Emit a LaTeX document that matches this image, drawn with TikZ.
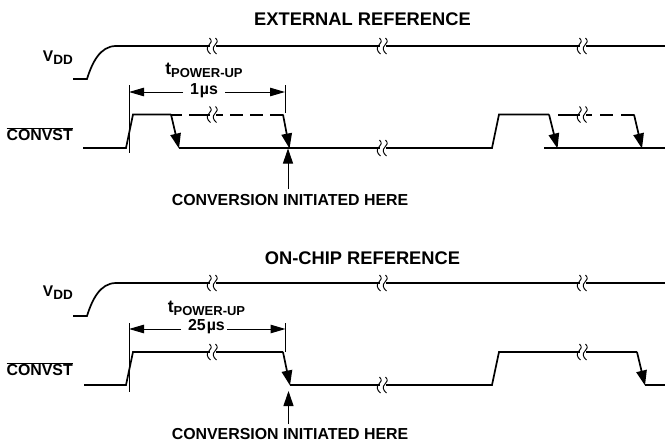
\documentclass[tikz,border=0pt]{standalone}
\usepackage{fontspec}
\setmainfont{Liberation Sans}
\usetikzlibrary{arrows.meta}
\tikzset{
  wave/.style={line width=1.7pt, line join=miter},
  dimline/.style={line width=0.9pt},
  dimarrow/.style={line width=1pt, -{Triangle[length=15pt,width=8.5pt]}},
  fallarrow/.style={line width=1.7pt, -{Triangle[length=15pt,width=10.5pt]}},
  uparrow/.style={line width=1pt, -{Triangle[length=15pt,width=10pt]}},
  label/.style={font=\bfseries\fontsize{15.9}{17}\selectfont, inner sep=0pt},
  title/.style={font=\bfseries\fontsize{18.3}{20}\selectfont, inner sep=0pt}
}
% break mark on a line
\newcommand{\breakmark}[2]{
  \fill[white] (#1+0,#2-4) rectangle (#1+6,#2+4);
  \foreach \sq in {1,7}
    \draw[line width=0.95pt] (#1+\sq-1.5,#2-8) .. controls (#1+\sq+1.5,#2-5) and (#1+\sq,#2-3) .. (#1+\sq-2,#2-1) .. controls (#1+\sq-5,#2+2) and (#1+\sq-4,#2+5) .. (#1+\sq-0.5,#2+8);
}
\newcommand{\vdd}{\fontsize{15.5}{17}\selectfont V\raisebox{-3pt}{\fontsize{13.5}{14}\selectfont DD}}
\newcommand{\tpower}{\fontsize{17.5}{17}\selectfont t\raisebox{-3pt}{\fontsize{13}{14}\selectfont POWER-UP}}
\begin{document}
\begin{tikzpicture}[x=1pt,y=-1pt]
  \useasboundingbox (0,0) rectangle (665,442);

  % external reference
  \node[title] (exttitle) at (362.5,19) {EXTERNAL REFERENCE};
  \node[label,anchor=east] (extvdd) at (73,58) {\vdd};
  \node[label,anchor=east] (extconvst) at (73,134) {$\overline{\hbox{CONVST}}$};
  \draw[wave] (73,79) -- (87,79) .. controls (92,63) and (100,46) .. (116,46) -- (665,46);
  \draw[wave] (83,148) -- (126,148) -- (133,114.5) -- (171,114.5);
  \draw[wave] (179,148) -- (492,148) -- (499,114.5) -- (549,114.5);
  \draw[wave] (544,148) -- (665,148);
  % dashes
  \foreach \from/\to in {171/182,189/223,230/243,250/263,270/283,558/592,600/613,621/634}
    \draw[wave] (\from,114.9) -- (\to,114.9);
  \draw[fallarrow] (171,114.5) -- (179,148.5);
  \draw[fallarrow] (283,114.5) -- (289.5,148.5);
  \draw[fallarrow] (549,114.5) -- (557.5,148.5);
  \draw[fallarrow] (634,114.5) -- (642,148.5);
  \foreach \posx/\posy in {210/46,380/46,580/46,210/114.5,580/114.5,380/148}
    {\breakmark{\posx}{\posy}}
  \coordinate (extleft) at (129,92);
  \coordinate (extright) at (285,92);
  \draw[dimline] (129,85) -- (129,153);
  \draw[dimline] (285,85) -- (285,113);
  \node[label] (exttime) at (204,91) {1\kern1ptµs};
  \node[label] (extpower) at (204,70) {\tpower};
  \draw[dimarrow] (183,92) -- (extleft);
  \draw[dimarrow] (225,92) -- (extright);
  \node[label] (extconv) at (290,200) {CONVERSION INITIATED HERE};
  \coordinate (exttip) at (288,148.5);
  \draw[uparrow] (288,189) -- (exttip);

  % on-chip reference
  \node[title] (chiptitle) at (362.5,258) {ON-CHIP REFERENCE};
  \node[label,anchor=east] (chipvdd) at (73,293) {\vdd};
  \node[label,anchor=east] (chipconvst) at (73,369) {$\overline{\hbox{CONVST}}$};
  \draw[wave] (73,316) -- (87,316) .. controls (92,300) and (100,283) .. (116,283) -- (665,283);
  \draw[wave] (84,385) -- (126,385) -- (133,352) -- (283,352);
  \draw[wave] (290,385) -- (492,385) -- (499,352) -- (637,352);
  \draw[wave] (645,385) -- (665,385);
  \draw[fallarrow] (283,352) -- (290,385.5);
  \draw[fallarrow] (637,352) -- (645,385.5);
  \foreach \posx/\posy in {210/283,380/283,580/283,210/352,580/352,380/385}
    {\breakmark{\posx}{\posy}}
  \coordinate (chipleft) at (129,329);
  \coordinate (chipright) at (285.5,329);
  \draw[dimline] (129,323) -- (129,392);
  \draw[dimline] (285.5,323) -- (285.5,352);
  \node[label] (chiptime) at (206.5,327) {25\kern1ptµs};
  \node[label] (chippower) at (206.5,308) {\tpower};
  \draw[dimarrow] (181,329) -- (chipleft);
  \draw[dimarrow] (227,329) -- (chipright);
  \node[label] (chipconv) at (290,434.5) {CONVERSION INITIATED HERE};
  \coordinate (chiptip) at (288.5,391);
  \draw[uparrow] (288.5,424) -- (chiptip);
\end{tikzpicture}
\end{document}
